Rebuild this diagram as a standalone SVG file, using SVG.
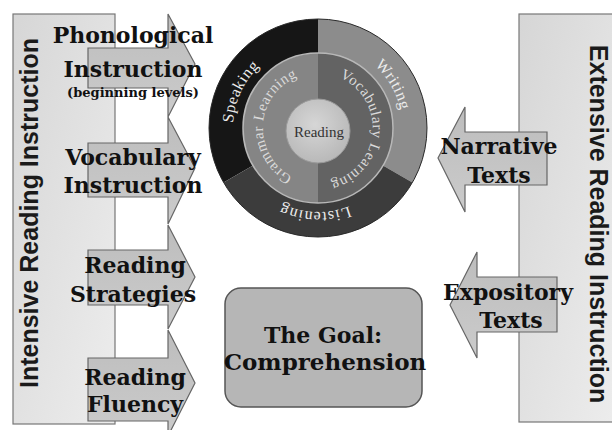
<svg xmlns="http://www.w3.org/2000/svg" width="612" height="430" viewBox="0 0 612 430">
<style>
.lbl{font-family:"DejaVu Serif","Liberation Serif",serif;font-weight:bold;font-size:22px;fill:#111;text-anchor:middle}
.small{font-size:13px}
.side{font-family:"Liberation Sans",Arial,sans-serif;font-weight:bold;font-size:25px;fill:#1a1a1a;text-anchor:middle}
.ring{font-family:"Liberation Serif","DejaVu Serif",serif;font-size:16px;fill:#ececec;letter-spacing:0.6px}
.inner{font-size:15px;fill:#dadada}
.arrow{fill:url(#arrG);stroke:#666;stroke-width:1.2}
.panel{fill:url(#panG);stroke:#777;stroke-width:1.2}
</style>
<defs>
<linearGradient id="panG" x1="0" y1="0" x2="1" y2="1">
<stop offset="0" stop-color="#d6d6d6"/><stop offset="1" stop-color="#ededed"/>
</linearGradient>
<linearGradient id="arrG" x1="0" y1="0" x2="0" y2="1">
<stop offset="0" stop-color="#bdbdbd"/><stop offset="1" stop-color="#cbcbcb"/>
</linearGradient>
<radialGradient id="coreG" cx="0.45" cy="0.4" r="0.7">
<stop offset="0" stop-color="#d6d6d6"/><stop offset="1" stop-color="#b4b4b4"/>
</radialGradient>
<path id="pSpeak" d="M282.08,205.04 A85,85 0 0 1 353.92,50.96"/>
<path id="pWrite" d="M275.5,54.39 A85,85 0 0 1 360.5,201.61"/>
<path id="pListen" d="M401.95,130.93 A84,84 0 0 1 234.05,125.07"/>
<path id="pGram" d="M315.12,183 A55,55 0 0 1 320.88,73"/>
<path id="pVoc" d="M322.79,73.21 A55,55 0 0 1 313.21,182.79"/>
</defs>
<rect width="612" height="430" fill="#fff"/>

<g id="intensive-panel">
<rect class="panel" x="13" y="14" width="102" height="410"/>
<text class="side" transform="translate(38,213) rotate(-90)">Intensive Reading Instruction</text>
</g>

<g id="extensive-panel">
<rect class="panel" x="519" y="14" width="100" height="408"/>
<text class="side" transform="translate(590,224) rotate(90)">Extensive Reading Instruction</text>
</g>

<g id="phonological">
<polygon class="arrow" points="88,48 168,48 168,14 195,64 168,117 168,88 88,88"/>
<text class="lbl" x="133" y="43">Phonological</text>
<text class="lbl" x="133" y="77">Instruction</text>
<text class="lbl small" x="133" y="97">(beginning levels)</text>
</g>

<g id="vocabulary">
<polygon class="arrow" points="88,143 168,143 168,117 195,168 168,224 168,197 88,197"/>
<text class="lbl" x="133" y="165">Vocabulary</text>
<text class="lbl" x="133" y="193">Instruction</text>
</g>

<g id="strategies">
<polygon class="arrow" points="88,250 168,250 168,225 195,277 168,329 168,305 88,305"/>
<text class="lbl" x="135" y="273">Reading</text>
<text class="lbl" x="133" y="302">Strategies</text>
</g>

<g id="fluency">
<polygon class="arrow" points="88,358 168,358 168,330 195,383 168,436 168,421 88,421"/>
<text class="lbl" x="135" y="385">Reading</text>
<text class="lbl" x="135" y="412">Fluency</text>
</g>

<g id="narrative">
<polygon class="arrow" points="547,132 465,132 465,107 438,158 465,212 465,185 547,185"/>
<text class="lbl" x="499" y="154">Narrative</text>
<text class="lbl" x="499" y="183">Texts</text>
</g>

<g id="expository">
<polygon class="arrow" points="557,277 477,277 477,252 450,305 477,358 477,332 557,332"/>
<text class="lbl" x="508" y="300">Expository</text>
<text class="lbl" x="511" y="328">Texts</text>
</g>

<g id="goal">
<rect x="225" y="288" width="197" height="119" rx="16" fill="#b6b6b6" stroke="#555" stroke-width="1.5"/>
<text class="lbl" x="323" y="343">The Goal:</text>
<text class="lbl" x="325" y="370" style="font-size:23px">Comprehension</text>
</g>

<g id="skills-wheel">
<path d="M318,128 L223.6,182.5 A109,109 0 0 1 318,19 Z" fill="#161616"/>
<path d="M318,128 L318,19 A109,109 0 0 1 412.4,182.5 Z" fill="#8c8c8c"/>
<path d="M318,128 L412.4,182.5 A109,109 0 0 1 223.6,182.5 Z" fill="#3c3c3c"/>
<circle cx="318" cy="128" r="109" fill="none" stroke="#2a2a2a" stroke-width="1"/>
<path d="M318,53 A75,75 0 0 0 318,203 Z" fill="#858585"/>
<path d="M318,53 A75,75 0 0 1 318,203 Z" fill="#636363"/>
<circle cx="318" cy="128" r="75" fill="none" stroke="#b8b8b8" stroke-width="1.5"/>
<circle cx="318" cy="131" r="32" fill="url(#coreG)" stroke="#9a9a9a" stroke-width="1"/>
<text style="font-family:'Liberation Serif','DejaVu Serif',serif;font-size:15px;fill:#333;text-anchor:middle" x="319" y="137">Reading</text>
<text class="ring"><textPath href="#pSpeak" startOffset="50%" text-anchor="middle">Speaking</textPath></text>
<text class="ring"><textPath href="#pWrite" startOffset="50%" text-anchor="middle">Writing</textPath></text>
<text class="ring" style="letter-spacing:1px"><textPath href="#pListen" startOffset="50%" text-anchor="middle">Listening</textPath></text>
<text class="ring inner"><textPath href="#pGram" startOffset="50%" text-anchor="middle">Grammar Learning</textPath></text>
<text class="ring inner"><textPath href="#pVoc" startOffset="50%" text-anchor="middle">Vocabulary Learning</textPath></text>
</g>

<g id="connectors"></g>
</svg>
